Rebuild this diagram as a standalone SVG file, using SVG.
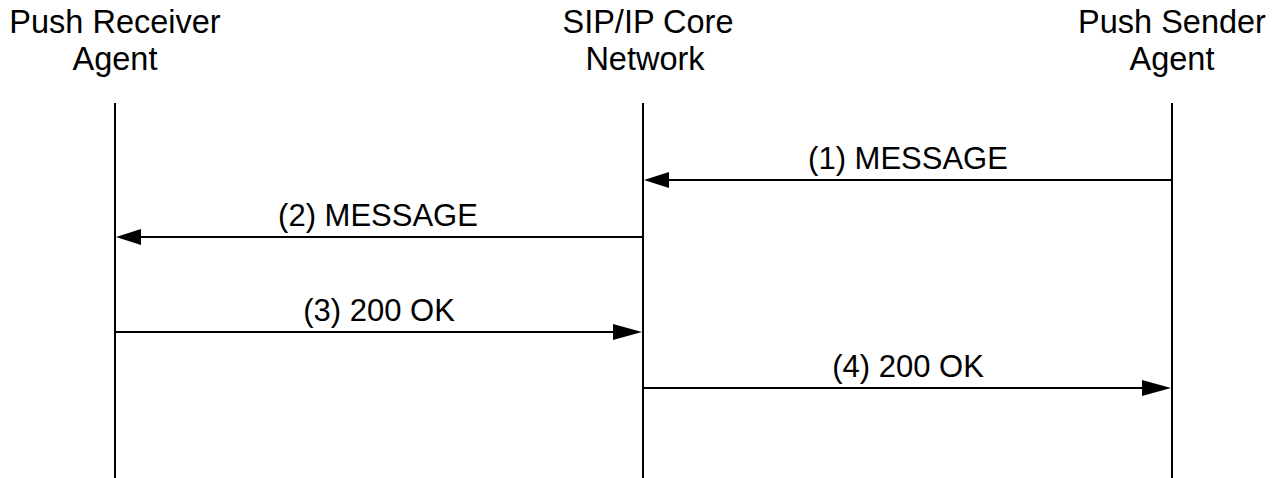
<svg xmlns="http://www.w3.org/2000/svg" width="1276" height="478" viewBox="0 0 1276 478">
  <style>
    .hdr { font-family: "Liberation Sans", Arial, sans-serif; font-size: 32.5px; fill: #000; text-anchor: middle; }
    .lbl { font-family: "Liberation Sans", Arial, sans-serif; font-size: 31px; fill: #000; text-anchor: middle; }
    .life { stroke: #000; stroke-width: 2; fill: none; }
    .msg { stroke: #000; stroke-width: 2; fill: none; }
    .head { fill: #000; stroke: none; }
  </style>
  <rect width="1276" height="478" fill="#fff"/>
  <g id="receiver">
    <text class="hdr" x="115" y="33">Push Receiver</text>
    <text class="hdr" x="115" y="70">Agent</text>
    <line class="life" x1="115" y1="103" x2="115" y2="478"/>
  </g>
  <g id="core">
    <text class="hdr" x="648" y="33">SIP/IP Core</text>
    <text class="hdr" x="645" y="70">Network</text>
    <line class="life" x1="643" y1="103" x2="643" y2="478"/>
  </g>
  <g id="sender">
    <text class="hdr" x="1172" y="33">Push Sender</text>
    <text class="hdr" x="1172" y="70">Agent</text>
    <line class="life" x1="1172" y1="103" x2="1172" y2="478"/>
  </g>
  <g id="connectors">
    <g id="m1">
      <line class="msg" x1="1172" y1="180" x2="668" y2="180"/>
      <polygon class="head" points="644,180 669,172 669,188"/>
      <text class="lbl" x="908" y="169">(1) MESSAGE</text>
    </g>
    <g id="m2">
      <line class="msg" x1="643" y1="237" x2="140" y2="237"/>
      <polygon class="head" points="116,237 141,229 141,245"/>
      <text class="lbl" x="378" y="226">(2) MESSAGE</text>
    </g>
    <g id="m3">
      <line class="msg" x1="115" y1="332" x2="614" y2="332"/>
      <polygon class="head" points="642,332 613,324 613,340"/>
      <text class="lbl" x="379" y="321">(3) 200 OK</text>
    </g>
    <g id="m4">
      <line class="msg" x1="643" y1="388" x2="1143" y2="388"/>
      <polygon class="head" points="1171,388 1142,380 1142,396"/>
      <text class="lbl" x="908" y="377">(4) 200 OK</text>
    </g>
  </g>
</svg>
